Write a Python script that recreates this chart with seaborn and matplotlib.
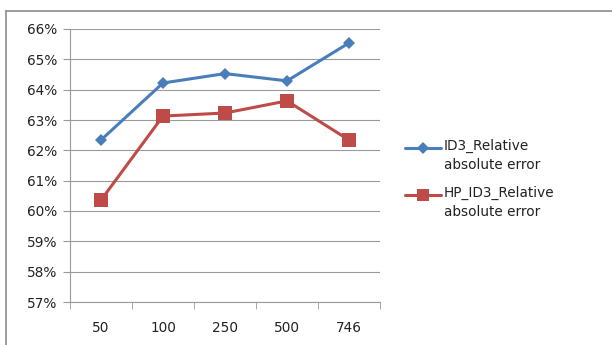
import matplotlib
matplotlib.use("Agg")
import matplotlib.pyplot as plt
import seaborn as sns
import pandas as pd
from matplotlib.lines import Line2D
from matplotlib.ticker import FuncFormatter, MultipleLocator, FixedLocator

categories = ["50", "100", "250", "500", "746"]
id3_rae = [62.34, 64.22, 64.53, 64.29, 65.54]
hp_id3_rae = [60.36, 63.13, 63.23, 63.63, 62.34]
series_names = ["ID3_Relative\nabsolute error", "HP_ID3_Relative\nabsolute error"]
colors = ["#4A7EBB", "#BE4B48"]
markers = ["D", "s"]
marker_sizes = [6, 10]

df = pd.DataFrame({
    "cat": categories * 2,
    "val": id3_rae + hp_id3_rae,
    "series": [series_names[0]] * 5 + [series_names[1]] * 5,
})

sns.set_style("white")
plt.rcParams["font.family"] = ["DejaVu Sans"]

W, H = 612, 345
fig = plt.figure(figsize=(W/100, H/100), dpi=100)
ax = fig.add_axes([70/W, 1-302/H, 310/W, 273/H])

sns.lineplot(data=df, x="cat", y="val", hue="series", style="series",
             markers=dict(zip(series_names, markers)),
             dashes=False, palette=dict(zip(series_names, colors)),
             linewidth=2.2, markeredgewidth=0, ax=ax, legend=False, sort=False)
for line, ms in zip(ax.get_lines(), marker_sizes):
    line.set_markersize(ms)

ax.set_xlim(-0.5, 4.5)
ax.set_ylim(57, 66)
ax.yaxis.set_major_locator(MultipleLocator(1))
ax.yaxis.set_major_formatter(FuncFormatter(lambda v, p: f"{v:.0f}%"))
ax.yaxis.grid(True, color="#9a9a9a", linewidth=0.8)
ax.set_axisbelow(True)
ax.set_xticks(range(len(categories)))
ax.set_xticklabels(categories)
ax.xaxis.set_minor_locator(FixedLocator([i - 0.5 for i in range(len(categories) + 1)]))
ax.tick_params(axis="x", which="major", length=0, pad=14, labelsize=9.8, colors="#222222")
ax.tick_params(axis="x", which="minor", length=5, color="#9a9a9a", direction="out", bottom=True)
ax.tick_params(axis="y", which="major", length=5, color="#9a9a9a", direction="out", left=True,
               labelsize=9.8, labelcolor="#222222", pad=4)
ax.set_xlabel("")
ax.set_ylabel("")
for s in ["top", "right"]:
    ax.spines[s].set_visible(False)
for s in ["left", "bottom"]:
    ax.spines[s].set_color("#9a9a9a")
    ax.spines[s].set_linewidth(0.8)

# legend drawn manually: handle aligned with first text line
for i, (name, c, m, ms) in enumerate(zip(series_names, colors, ["D", "s"], [6, 9])):
    yc = 148 + i * 47
    fig.add_artist(Line2D([405/W, 441/W], [1-yc/H, 1-yc/H], transform=fig.transFigure,
                          color=c, lw=2.2))
    fig.add_artist(Line2D([423/W], [1-yc/H], transform=fig.transFigure,
                          color=c, marker=m, ms=ms, markeredgewidth=0, lw=0))
    fig.text(444/W, 1-(yc-9)/H, name, transform=fig.transFigure, fontsize=9.8,
             color="#222222", va="top", ha="left", linespacing=1.45)

fig.add_artist(Line2D([6/W, 6/W], [0, 1-11/H], transform=fig.transFigure,
                      color="#8c8c8c", lw=1.2))
fig.add_artist(Line2D([6/W, 1], [1-11/H, 1-11/H], transform=fig.transFigure,
                      color="#8c8c8c", lw=1.2))

fig.savefig("out.png", dpi=100)
